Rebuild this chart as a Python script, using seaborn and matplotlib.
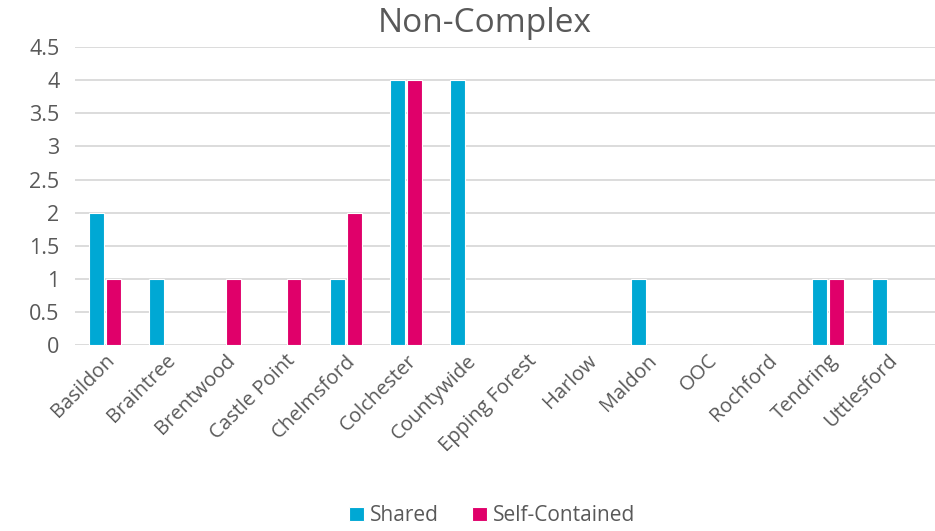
import matplotlib
matplotlib.use("Agg")
import matplotlib.pyplot as plt
import seaborn as sns
import pandas as pd

areas = ["Basildon", "Braintree", "Brentwood", "Castle Point", "Chelmsford",
         "Colchester", "Countywide", "Epping Forest", "Harlow", "Maldon",
         "OOC", "Rochford", "Tendring", "Uttlesford"]
shared = [2, 1, 0, 0, 1, 4, 4, 0, 0, 1, 0, 0, 1, 1]
self_contained = [1, 0, 1, 1, 2, 4, 0, 0, 0, 0, 0, 0, 1, 0]

df = pd.DataFrame({
    "area": areas * 2,
    "value": shared + self_contained,
    "type": ["Shared"] * len(areas) + ["Self-Contained"] * len(areas),
})

sns.set_style("white")
plt.rcParams["font.family"] = ["Open Sans", "DejaVu Sans"]
grey = "#595959"

fig = plt.figure(figsize=(9.35, 5.31), dpi=100)
ax = fig.add_axes([0.080, 0.350, 0.920, 0.5615])

sns.barplot(data=df, x="area", y="value", hue="type", ax=ax,
            palette={"Shared": "#00A8D4", "Self-Contained": "#E0006A"},
            saturation=1, width=0.56, gap=0.12, edgecolor="white", linewidth=0.8,
            errorbar=None, legend=True)

ax.set_xlim(-0.5, 13.78)
ax.set_ylim(0, 4.5)
ax.set_yticks([0, 0.5, 1, 1.5, 2, 2.5, 3, 3.5, 4, 4.5])
ax.set_yticklabels(["0", "0.5", "1", "1.5", "2", "2.5", "3", "3.5", "4", "4.5"])
ax.yaxis.grid(True, color="#D9D9D9", linewidth=1.3)
ax.set_axisbelow(True)
for s in ["top", "right", "left", "bottom"]:
    ax.spines[s].set_visible(False)
ax.set_xlabel("")
ax.set_ylabel("")
ax.tick_params(axis="both", length=0, colors=grey)
ax.tick_params(axis="y", pad=11, labelsize=15.5)
ax.tick_params(axis="x", pad=4, labelsize=14.5)
plt.setp(ax.get_xticklabels(), rotation=45, ha="right", rotation_mode="anchor")

ax.set_title("Non-Complex", fontsize=24, color=grey, pad=11, x=0.476)

handles, labels = ax.get_legend_handles_labels()
ax.legend(handles, labels, loc="lower center", bbox_to_anchor=(0.485, -0.67),
          ncol=2, frameon=False, fontsize=15, labelcolor=grey,
          handlelength=0.7, handleheight=0.7, handletextpad=0.3, columnspacing=1.6)

fig.savefig("out.png", dpi=100)
